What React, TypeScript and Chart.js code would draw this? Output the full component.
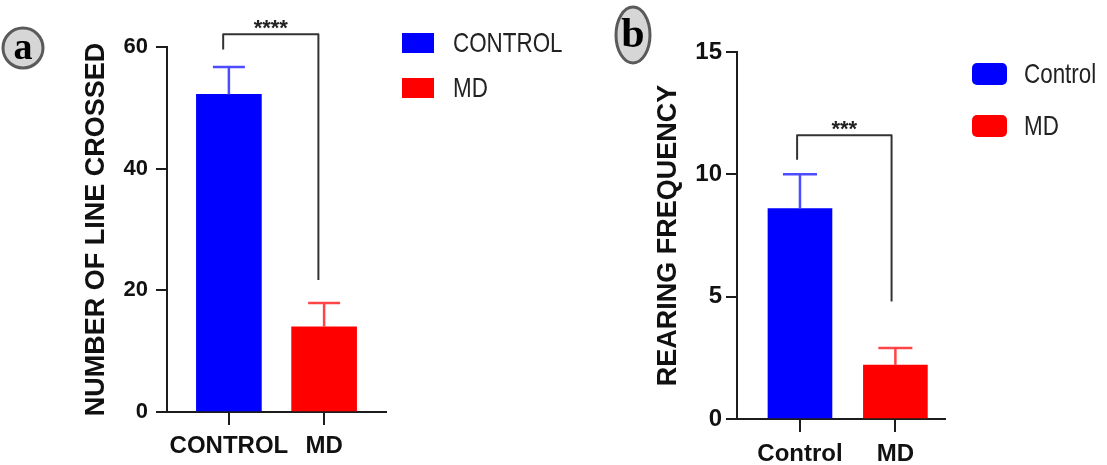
import React, { useEffect, useRef } from 'react';
import { Chart, registerables } from 'chart.js';

Chart.register(...registerables);

// ---------- Panel a data ----------
const CATEGORIES_A = ['CONTROL', 'MD'];
const LINES_CROSSED_MEAN = [52.2, 14.0];
const LINES_CROSSED_ERR = [4.5, 3.9];
const Y_TICKS_A = [0, 20, 40, 60];
const BRACKET_A_X = [-0.06, 0.94];
const BRACKET_A_Y = [59.6, 62.1, 21.7]; // left foot, top, right foot
const STARS_A = '****';

// ---------- Panel b data ----------
const CATEGORIES_B = ['Control', 'MD'];
const REARING_MEAN = [8.6, 2.2];
const REARING_ERR = [1.4, 0.7];
const Y_TICKS_B = [0, 5, 10, 15];
const BRACKET_B_X = [-0.03, 0.96];
const BRACKET_B_Y = [10.6, 11.6, 4.8];
const STARS_B = '***';

const BAR_COLORS = ['#0000ff', '#ff0000'];
const WHISKER_COLORS = ['#4d4dff', '#ff4545'];
const AXIS_COLOR = '#1c1c1c';
const SANS = '"Liberation Sans", Arial, Helvetica, sans-serif';
const SERIF = '"Liberation Serif", "Times New Roman", serif';

type PanelCfg = {
  left: number;
  width: number;
  categories: string[];
  means: number[];
  errs: number[];
  yTicks: number[];
  bracketX: number[];
  bracketY: number[];
  stars: string;
  yTitle: string;
  letter: string;
  xMin: number;
  xMax: number;
  barThickness: number;
  capHalf: number;
  padTop: number;
  padRight: number;
  yAxisWidth: number;
  xAxisHeight: number;
  yTickFont: number;
  yTickPad: number;
  titlePad: number;
  xTickPad: number;
  starsY: number;
  legend: { boxX: number; boxW: number; boxH: number; rows: number[]; textX: number; radius: number };
  badge: { cx: number; cy: number; rx: number; ry: number; size: number };
};

const PANEL_A: PanelCfg = {
  left: 0,
  width: 590,
  categories: CATEGORIES_A,
  means: LINES_CROSSED_MEAN,
  errs: LINES_CROSSED_ERR,
  yTicks: Y_TICKS_A,
  bracketX: BRACKET_A_X,
  bracketY: BRACKET_A_Y,
  stars: STARS_A,
  yTitle: 'NUMBER OF LINE CROSSED',
  letter: 'a',
  xMin: -0.65,
  xMax: 1.65,
  barThickness: 65,
  capHalf: 16,
  padTop: 47,
  padRight: 204,
  yAxisWidth: 167,
  xAxisHeight: 53,
  yTickFont: 22,
  yTickPad: 8,
  titlePad: 80,
  xTickPad: 7,
  starsY: 1,
  legend: { boxX: 402, boxW: 32, boxH: 20, rows: [43, 88], textX: 453, radius: 0 },
  badge: { cx: 23, cy: 48, rx: 20, ry: 20, size: 38 },
};

const PANEL_B: PanelCfg = {
  left: 590,
  width: 517,
  categories: CATEGORIES_B,
  means: REARING_MEAN,
  errs: REARING_ERR,
  yTicks: Y_TICKS_B,
  bracketX: BRACKET_B_X,
  bracketY: BRACKET_B_Y,
  stars: STARS_B,
  yTitle: 'REARING FREQUENCY',
  letter: 'b',
  xMin: -0.66,
  xMax: 1.52,
  barThickness: 64,
  capHalf: 17,
  padTop: 52,
  padRight: 162,
  yAxisWidth: 147,
  xAxisHeight: 46,
  yTickFont: 24,
  yTickPad: 4,
  titlePad: 62,
  xTickPad: 8,
  starsY: 1,
  legend: { boxX: 382, boxW: 35, boxH: 22, rows: [74, 126], textX: 434, radius: 5 },
  badge: { cx: 43, cy: 35, rx: 17, ry: 28, size: 42 },
};

function Panel({ cfg }: { cfg: PanelCfg }) {
  const ref = useRef<HTMLCanvasElement>(null);

  useEffect(() => {
    const canvas = ref.current;
    if (!canvas) return;

    const overlay = {
      id: 'overlay',
      afterDatasetsDraw(chart: any) {
        const ctx = chart.ctx as CanvasRenderingContext2D;
        const xs = chart.scales.x;
        const ys = chart.scales.y;
        const meta = chart.getDatasetMeta(0);
        ctx.save();

        // error bars (upper whiskers)
        cfg.means.forEach((m, i) => {
          const bar = meta.data[i];
          const x = bar.x;
          const yTop = ys.getPixelForValue(m + cfg.errs[i]);
          ctx.strokeStyle = WHISKER_COLORS[i];
          ctx.lineWidth = 2.5;
          ctx.beginPath();
          ctx.moveTo(x, bar.y);
          ctx.lineTo(x, yTop);
          ctx.moveTo(x - cfg.capHalf, yTop);
          ctx.lineTo(x + cfg.capHalf, yTop);
          ctx.stroke();
        });

        // significance bracket
        const x1 = xs.getPixelForValue(cfg.bracketX[0]);
        const x2 = xs.getPixelForValue(cfg.bracketX[1]);
        const yl = ys.getPixelForValue(cfg.bracketY[0]);
        const yt = ys.getPixelForValue(cfg.bracketY[1]);
        const yr = ys.getPixelForValue(cfg.bracketY[2]);
        ctx.strokeStyle = '#333';
        ctx.lineWidth = 2;
        ctx.lineJoin = 'round';
        ctx.beginPath();
        ctx.moveTo(x1, yl);
        ctx.lineTo(x1, yt);
        ctx.lineTo(x2, yt);
        ctx.lineTo(x2, yr);
        ctx.stroke();
        ctx.fillStyle = '#222';
        ctx.font = `bold 22px ${SANS}`;
        ctx.textAlign = 'center';
        ctx.textBaseline = 'alphabetic';
        ctx.fillText(cfg.stars, (x1 + x2) / 2, yt + cfg.starsY);

        // legend (one entry per category, coloured like its bar)
        const lg = cfg.legend;
        const ds = chart.data.datasets[0];
        chart.data.labels.forEach((label: string, i: number) => {
          const cy = lg.rows[i];
          ctx.fillStyle = ds.backgroundColor[i];
          ctx.beginPath();
          if (lg.radius > 0 && (ctx as any).roundRect) {
            (ctx as any).roundRect(lg.boxX, cy - lg.boxH / 2, lg.boxW, lg.boxH, lg.radius);
          } else {
            ctx.rect(lg.boxX, cy - lg.boxH / 2, lg.boxW, lg.boxH);
          }
          ctx.fill();
          ctx.save();
          ctx.fillStyle = '#222';
          ctx.font = `28px ${SANS}`;
          ctx.textAlign = 'left';
          ctx.textBaseline = 'middle';
          ctx.translate(lg.textX, cy + 1);
          ctx.scale(0.8, 1);
          ctx.fillText(label, 0, 0);
          ctx.restore();
        });

        // panel letter badge
        const b = cfg.badge;
        ctx.beginPath();
        ctx.ellipse(b.cx, b.cy, b.rx, b.ry, 0, 0, Math.PI * 2);
        ctx.fillStyle = '#d6d6d6';
        ctx.fill();
        ctx.lineWidth = 3;
        ctx.strokeStyle = '#5a5a5a';
        ctx.stroke();
        ctx.fillStyle = '#000';
        ctx.font = `bold ${b.size}px ${SERIF}`;
        ctx.textAlign = 'center';
        ctx.textBaseline = 'middle';
        ctx.fillText(cfg.letter, b.cx, b.cy + 1);

        ctx.restore();
      },
    };

    const chart = new Chart(canvas, {
      type: 'bar',
      data: {
        labels: cfg.categories,
        datasets: [
          {
            label: cfg.yTitle,
            data: cfg.means.map((m, i) => ({ x: i, y: m })),
            backgroundColor: BAR_COLORS,
            borderWidth: 0,
            barThickness: cfg.barThickness,
          },
        ],
      } as any,
      options: {
        animation: false,
        responsive: false,
        maintainAspectRatio: false,
        layout: { padding: { top: cfg.padTop, right: cfg.padRight, left: 0, bottom: 0 } },
        plugins: {
          legend: { display: false },
          tooltip: { enabled: false },
        },
        scales: {
          x: {
            type: 'linear',
            offset: false,
            min: cfg.xMin,
            max: cfg.xMax,
            afterBuildTicks: (s: any) => {
              s.ticks = cfg.categories.map((_, i) => ({ value: i }));
            },
            afterFit: (s: any) => {
              s.height = cfg.xAxisHeight;
            },
            ticks: {
              callback: (v: any) => cfg.categories[Math.round(Number(v))] ?? '',
              autoSkip: false,
              maxRotation: 0,
              minRotation: 0,
              padding: cfg.xTickPad,
              color: '#111',
              font: { family: SANS, size: 24, weight: 'bold' },
            },
            grid: {
              offset: false,
              drawOnChartArea: false,
              drawTicks: true,
              tickLength: 13,
              color: AXIS_COLOR,
              lineWidth: 2,
            },
            border: { display: true, color: AXIS_COLOR, width: 2 },
          },
          y: {
            type: 'linear',
            min: cfg.yTicks[0],
            max: cfg.yTicks[cfg.yTicks.length - 1],
            afterBuildTicks: (s: any) => {
              s.ticks = cfg.yTicks.map((v) => ({ value: v }));
            },
            afterFit: (s: any) => {
              s.width = cfg.yAxisWidth;
            },
            ticks: {
              padding: cfg.yTickPad,
              color: '#111',
              font: { family: SANS, size: cfg.yTickFont, weight: 'bold' },
            },
            grid: {
              drawOnChartArea: false,
              drawTicks: true,
              tickLength: 11,
              color: AXIS_COLOR,
              lineWidth: 2,
            },
            border: { display: true, color: AXIS_COLOR, width: 2 },
            title: {
              display: true,
              text: cfg.yTitle,
              color: '#111',
              padding: { top: cfg.titlePad, bottom: 0 },
              font: { family: SANS, size: 27, weight: 'bold' },
            },
          },
        },
      } as any,
      plugins: [overlay],
    });

    return () => chart.destroy();
  }, [cfg]);

  return (
    <canvas
      ref={ref}
      width={cfg.width}
      height={465}
      style={{ position: 'absolute', left: cfg.left, top: 0, width: cfg.width, height: 465 }}
    />
  );
}

export default function App() {
  return (
    <div
      style={{
        position: 'absolute',
        left: 0,
        top: 0,
        width: 1107,
        height: 465,
        background: '#ffffff',
        overflow: 'hidden',
      }}
    >
      <Panel cfg={PANEL_A} />
      <Panel cfg={PANEL_B} />
    </div>
  );
}
